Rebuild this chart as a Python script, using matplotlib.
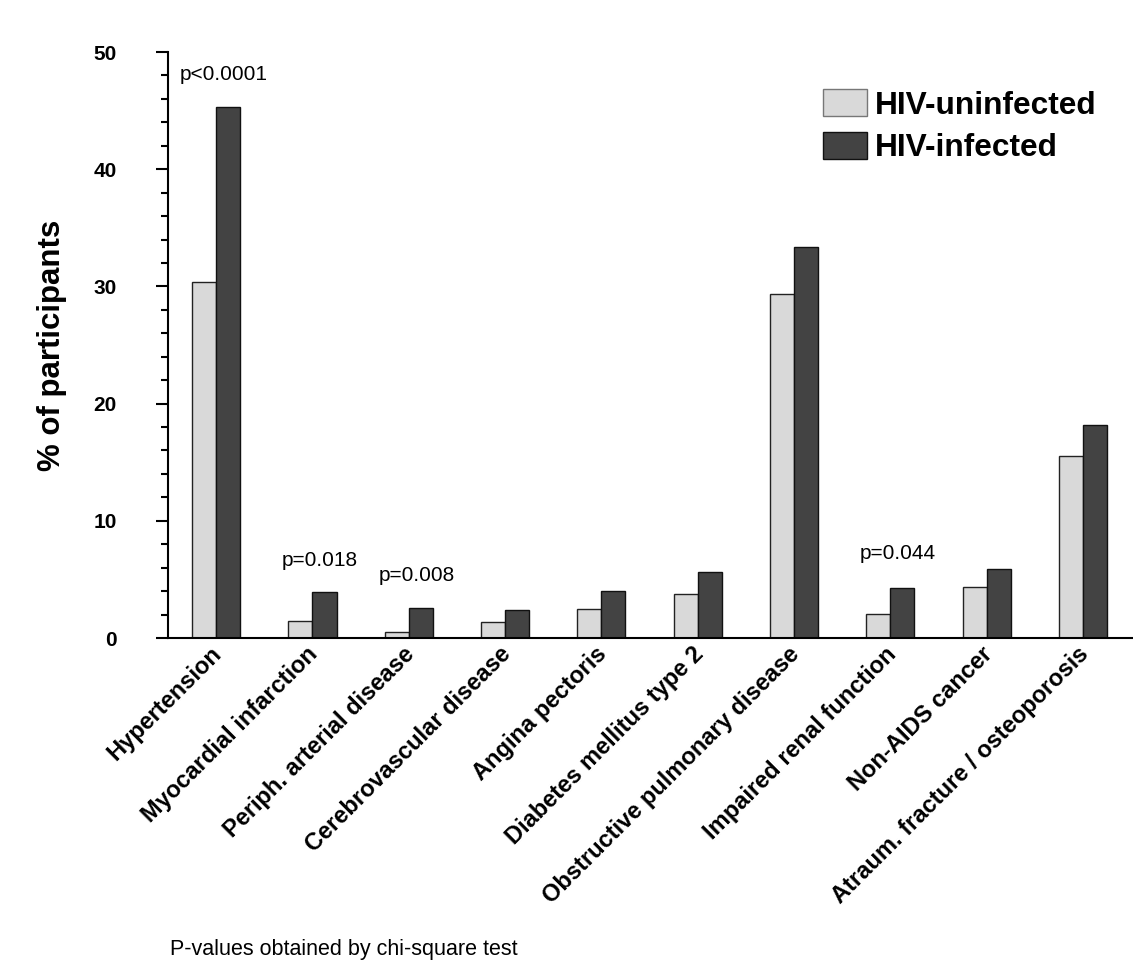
import numpy as np
import matplotlib.pyplot as plt
from matplotlib.ticker import MultipleLocator
from matplotlib.transforms import ScaledTranslation

plt.rcParams['font.family'] = ['Liberation Sans', 'DejaVu Sans']

categories = ['Hypertension', 'Myocardial infarction', 'Periph. arterial disease',
              'Cerebrovascular disease', 'Angina pectoris', 'Diabetes mellitus type 2',
              'Obstructive pulmonary disease', 'Impaired renal function',
              'Non-AIDS cancer', 'Atraum. fracture / osteoporosis']
uninfected = [30.4, 1.45, 0.55, 1.4, 2.45, 3.75, 29.35, 2.05, 4.35, 15.55]
infected = [45.3, 3.9, 2.55, 2.35, 4.05, 5.65, 33.35, 4.25, 5.85, 18.15]
# p-value labels: category index, text, y position
p_idx = [0, 1, 2, 7]
p_text = ['p<0.0001', 'p=0.018', 'p=0.008', 'p=0.044']
p_y = [48.1, 6.6, 5.3, 7.2]

light = '#d9d9d9'
dark = '#434343'

fig = plt.figure(figsize=(11.33, 9.74), dpi=100)
ax = fig.add_axes([168/1133, 1 - 638/974, 1 - 168/1133, (638 - 52)/974])

ind = np.arange(len(categories))
width = 0.25
ax.bar(ind - width/2, uninfected, width, color=light, edgecolor='#222222', linewidth=1,
       label='HIV-uninfected')
ax.bar(ind + width/2, infected, width, color=dark, edgecolor='#111111', linewidth=1,
       label='HIV-infected')

for i, t, y in zip(p_idx, p_text, p_y):
    ax.text(i + 0.08, y, t, ha='center', va='center', fontsize=15)

ax.set_xlim(-0.5, 9.52)
ax.set_ylim(0, 50)
ax.yaxis.set_major_locator(MultipleLocator(10))
ax.yaxis.set_minor_locator(MultipleLocator(2))
ax.tick_params(axis='y', which='major', length=9, width=1.5, pad=28, labelsize=15)
ax.tick_params(axis='y', which='minor', length=5, width=1.5)
for lab in ax.get_yticklabels():
    lab.set_fontweight('bold')

ax.set_xticks(ind, categories, rotation=45, ha='right', rotation_mode='anchor',
              fontsize=17, fontweight='bold')
ax.tick_params(axis='x', length=0, pad=6)
# nudge the slanted labels a little up-left
shift = ScaledTranslation(-6/100, 4/100, fig.dpi_scale_trans)
for lab in ax.get_xticklabels():
    lab.set_transform(lab.get_transform() + shift)

for s in ['top', 'right']:
    ax.spines[s].set_visible(False)
ax.spines['left'].set_linewidth(1.5)
ax.spines['bottom'].set_linewidth(1.5)

ax.set_ylabel('% of participants', fontsize=22.5, fontweight='bold')
ax.yaxis.set_label_coords((67 - 168)/(1133 - 168), 0.5)

leg = ax.legend(loc='upper left', bbox_to_anchor=(823/1133, 1 - 89/974),
                bbox_transform=fig.transFigure, frameon=False, borderpad=0,
                borderaxespad=0, handlelength=1.4, handleheight=0.95,
                handletextpad=0.25, labelspacing=0.35,
                prop={'size': 22.8, 'weight': 'bold'})
leg.legend_handles[0].set_edgecolor('#777777')

fig.text(170/1133, 1 - 950/974, 'P-values obtained by chi-square test',
         ha='left', va='center', fontsize=15.5)

plt.savefig('out.png', dpi=100)
plt.close()
